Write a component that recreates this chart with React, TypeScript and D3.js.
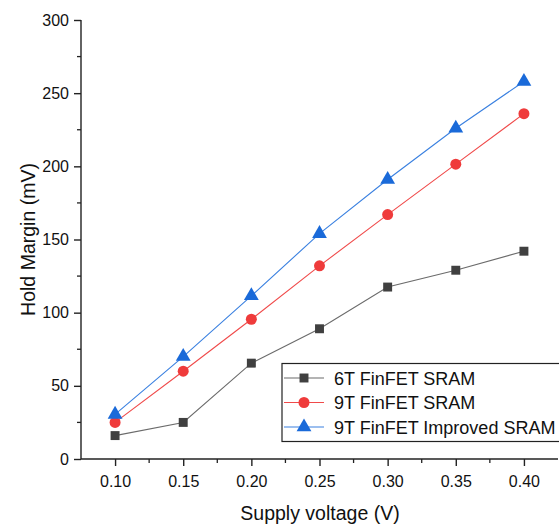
import React, { useEffect, useRef } from 'react';
import * as d3 from 'd3';

const voltages = [0.10, 0.15, 0.20, 0.25, 0.30, 0.35, 0.40];
const sram6T = [16, 25, 65.5, 89, 117.5, 129, 142];
const sram9T = [25, 60, 95.5, 132, 167, 201.5, 236];
const sram9TImproved = [30.5, 70, 111.5, 154, 191, 226, 258];
const seriesNames = ['6T FinFET SRAM', '9T FinFET SRAM', '9T FinFET Improved SRAM'];
const xTicks = [0.10, 0.15, 0.20, 0.25, 0.30, 0.35, 0.40];
const yTicks = [0, 50, 100, 150, 200, 250, 300];

const W = 559;
const H = 528;

export default function App() {
  const ref = useRef<SVGSVGElement>(null);

  useEffect(() => {
    const svg = d3.select(ref.current);
    svg.selectAll('*').remove();

    const left = 81, right = 558, top = 20, bottom = 459;
    const x = d3.scaleLinear().domain([0.075, 0.425]).range([left, right]);
    const y = d3.scaleLinear().domain([0, 300]).range([bottom, top]);

    const font = 'Liberation Sans, Arial, sans-serif';

    // axes
    const xAxis = d3.axisBottom(x).tickValues(xTicks).tickFormat(d3.format('.2f')).tickSize(7).tickPadding(10);
    const gx = svg.append('g').attr('transform', `translate(0 ${bottom})`).call(xAxis);
    const yAxis = d3.axisLeft(y).tickValues(yTicks).tickSize(7).tickPadding(5);
    const gy = svg.append('g').attr('transform', `translate(${left} 0)`).call(yAxis);

    [gx, gy].forEach(g => {
      g.select('.domain').attr('stroke', '#222').attr('stroke-width', 1.4);
      g.selectAll('.tick line').attr('stroke', '#222').attr('stroke-width', 1.4);
      g.selectAll('.tick text').attr('font-family', font).attr('font-size', 16).attr('fill', '#111');
    });
    gx.select('.domain').attr('d', `M${left},0H${right}`);
    gy.select('.domain').attr('d', `M0,${bottom}V${top}`);

    // minor ticks
    svg.selectAll('xminor')
      .data(d3.range(0.125, 0.42, 0.05))
      .enter()
      .append('line')
      .attr('x1', d => x(d)).attr('x2', d => x(d))
      .attr('y1', bottom).attr('y2', bottom + 4)
      .attr('stroke', '#222').attr('stroke-width', 1.3);
    svg.selectAll('yminor')
      .data(d3.range(25, 300, 50))
      .enter()
      .append('line')
      .attr('x1', left).attr('x2', left - 4)
      .attr('y1', d => y(d)).attr('y2', d => y(d))
      .attr('stroke', '#222').attr('stroke-width', 1.3);

    // axis titles
    svg.append('text')
      .attr('x', 320).attr('y', 520)
      .attr('text-anchor', 'middle')
      .attr('font-family', font).attr('font-size', 19.5).attr('fill', '#111')
      .text('Supply voltage (V)');
    svg.append('text')
      .attr('transform', `translate(35 ${(top + bottom) / 2}) rotate(-90)`)
      .attr('text-anchor', 'middle')
      .attr('font-family', font).attr('font-size', 19.5).attr('fill', '#111')
      .text('Hold Margin (mV)');

    const series = [
      { name: seriesNames[0], values: sram6T, line: '#6b6b6b', fill: '#404040', shape: d3.symbolSquare, size: 80 },
      { name: seriesNames[1], values: sram9T, line: '#f04a4a', fill: '#ef3b3b', shape: d3.symbolCircle, size: 95 },
      { name: seriesNames[2], values: sram9TImproved, line: '#3a80e0', fill: '#1a6ad9', shape: d3.symbolTriangle, size: 95 },
    ];

    const line = d3.line<number>()
      .x((d, i) => x(voltages[i]))
      .y(d => y(d));

    series.forEach(s => {
      svg.append('path')
        .attr('d', line(s.values))
        .attr('fill', 'none')
        .attr('stroke', s.line)
        .attr('stroke-width', 1.1);
      svg.selectAll('pts')
        .data(s.values)
        .enter()
        .append('path')
        .attr('d', d3.symbol().type(s.shape).size(s.size))
        .attr('transform', (d, i) => `translate(${x(voltages[i])} ${y(d)})`)
        .attr('fill', s.fill);
    });

    // legend
    const lg = svg.append('g');
    lg.append('rect')
      .attr('x', 282).attr('y', 363.5)
      .attr('width', 290).attr('height', 78)
      .attr('fill', 'white')
      .attr('stroke', '#222').attr('stroke-width', 1.2);
    series.forEach((s, i) => {
      const ly = 378 + i * 24.5;
      lg.append('line')
        .attr('x1', 284).attr('x2', 324)
        .attr('y1', ly).attr('y2', ly)
        .attr('stroke', s.line).attr('stroke-width', 1.1);
      lg.append('path')
        .attr('d', d3.symbol().type(s.shape).size(s.size))
        .attr('transform', `translate(304 ${ly})`)
        .attr('fill', s.fill);
      lg.append('text')
        .attr('x', 334).attr('y', ly + 6.5)
        .attr('font-family', font).attr('font-size', 18).attr('fill', '#111')
        .text(s.name);
    });
  }, []);

  return (
    <svg ref={ref} width={W} height={H} style={{ position: 'absolute', left: 0, top: 0, background: 'white' }} />
  );
}
